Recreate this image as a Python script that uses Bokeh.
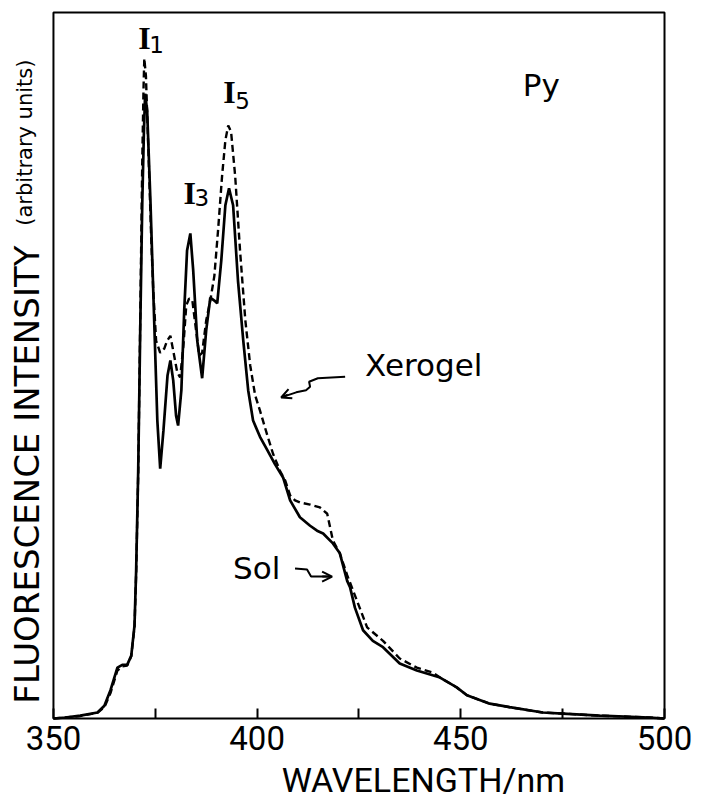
from math import pi
from bokeh.plotting import figure
from bokeh.models import Range1d, FixedTicker, Label, Arrow, OpenHead, ColumnDataSource, BoxAnnotation
from bokeh.core.properties import value
from bokeh.embed import file_html
from bokeh.resources import INLINE

# ---- data ----
wl_sol = [350.0, 352.9, 356.6, 360.8, 362.5, 364.0, 365.7, 366.9, 368.1, 369.1, 369.9, 370.3, 370.8, 371.3,
          371.8, 372.2, 372.5, 373.0, 373.8, 374.8, 375.5, 376.2, 377.0, 378.0, 378.7, 379.4, 380.1, 380.6,
          381.4, 382.1, 382.8, 383.6, 384.3, 385.3, 386.5, 387.5, 388.5, 389.5, 390.2, 391.2, 392.2, 393.1,
          394.1, 395.3, 396.6, 397.8, 399.0, 400.7, 402.5, 404.4, 406.4, 408.1, 410.5, 413.0, 414.7, 416.2,
          418.6, 420.3, 422.1, 422.8, 424.0, 426.0, 428.4, 430.9, 435.0, 439.2, 444.9, 449.0, 451.5, 457.1,
          462.0, 470.1, 475.0, 484.1, 496.3, 500.0]
int_sol = [0.0, 0.14, 0.4, 0.85, 1.8, 4.0, 7.2, 7.6, 7.6, 8.9, 13.2, 21.0, 35.0, 55.0,
           73.0, 83.0, 88.5, 86.1, 73.4, 55.0, 42.2, 35.4, 40.8, 48.6, 50.7, 47.9, 42.9, 41.5,
           46.5, 57.8, 66.3, 68.7, 63.5, 53.5, 48.2, 55.0, 59.6, 59.2, 58.8, 64.9, 72.7, 75.1,
           72.7, 62.0, 53.5, 46.5, 42.2, 39.9, 38.0, 36.0, 34.1, 30.9, 28.5, 27.3, 26.6, 26.2,
           24.8, 23.4, 19.5, 18.6, 15.7, 12.5, 11.0, 10.1, 7.8, 6.8, 5.8, 4.4, 3.3, 2.1,
           1.6, 0.85, 0.7, 0.4, 0.14, 0.0]

wl_xer = [350.0, 352.9, 356.6, 360.8, 362.5, 364.0, 365.7, 366.9, 368.1, 369.1, 369.9, 370.3, 370.8, 371.3,
          371.8, 372.1, 372.3, 372.7, 373.3, 374.0, 374.5, 375.2, 376.2, 377.2, 377.9, 378.7, 379.4, 380.4,
          381.1, 381.9, 382.6, 383.3, 384.1, 385.0, 385.8, 386.5, 387.5, 388.5, 389.5, 390.4, 391.4, 392.2,
          392.9, 393.6, 394.6, 395.8, 397.1, 398.3, 399.5, 400.7, 402.5, 403.9, 405.6, 406.9, 408.1, 409.3,
          410.5, 413.0, 415.4, 417.2, 418.6, 420.3, 422.1, 424.5, 427.0, 430.9, 435.0, 439.2, 443.1, 444.9,
          449.0, 451.5, 457.1, 462.0, 470.1, 475.0, 484.1, 496.3, 500.0]
int_xer = [0.0, 0.14, 0.35, 0.8, 1.6, 3.6, 6.8, 7.4, 7.5, 8.8, 13.0, 20.5, 34.5, 56.4,
           79.0, 89.0, 93.5, 91.0, 80.5, 68.0, 60.6, 53.5, 51.8, 52.4, 53.5, 54.2, 52.1, 49.0,
           48.3, 52.8, 58.5, 59.5, 59.2, 55.0, 51.4, 51.8, 56.4, 59.2, 62.7, 69.1, 76.9, 81.9,
           84.0, 83.1, 76.9, 66.3, 56.4, 50.0, 45.8, 43.6, 40.1, 37.5, 35.1, 33.7, 31.6, 30.9,
           30.6, 30.3, 29.9, 29.0, 25.2, 23.4, 20.3, 16.7, 12.9, 11.0, 8.5, 7.2, 6.5, 5.8,
           4.4, 3.3, 2.1, 1.6, 0.85, 0.7, 0.4, 0.14, 0.0]

x_ticks = [350, 375, 400, 425, 450, 475, 500]
x_tick_labels = ["350", "", "400", "", "450", "", "500"]
x_min, x_max = 350, 500
y_min, y_max = 0, 100

x_title = "WAVELENGTH/nm"
y_title = "FLUORESCENCE INTENSITY"
y_subtitle = "(arbitrary units)"

# ---- figure: the frame covers the margins so that the titles can sit there ----
p = figure(width=701, height=800, output_backend="svg", toolbar_location=None,
           x_range=Range1d(337.0, 509.08), y_range=Range1d(-11.615, 100.283),
           y_axis_location=None,
           min_border_left=0, min_border_right=0, min_border_top=10, min_border_bottom=0)
p.background_fill_color = "white"
p.border_fill_color = "white"
p.grid.visible = False
p.outline_line_color = None

# plot box
p.add_layout(BoxAnnotation(left=x_min, right=x_max, bottom=y_min, top=y_max,
                           fill_color=None, fill_alpha=0, line_color="black", line_alpha=1.0,
                           line_width=2))

ax = p.xaxis[0]
ax.fixed_location = 0
ax.ticker = FixedTicker(ticks=x_ticks)
ax.major_label_overrides = {t: l for t, l in zip(x_ticks, x_tick_labels)}
ax.major_tick_in = 10
ax.major_tick_out = 0
ax.minor_tick_line_color = None
ax.major_tick_line_width = 2
ax.axis_line_color = None
ax.major_label_text_font = "Roboto"
ax.major_label_text_font_size = "33px"
ax.major_label_text_color = "black"
ax.major_label_standoff = 8

# curves
p.line(wl_sol, int_sol, line_color="black", line_width=2.7)
p.line(wl_xer, int_xer, line_color="black", line_width=2.4, line_dash="7 4")

# axis titles
p.add_layout(Label(x=440.8, y=-8.7, text=x_title, text_align="center", text_baseline="alphabetic",
                   text_font="Roboto", text_font_size="34px", text_color="black"))
p.add_layout(Label(x=343.6, y=2.1, text=y_title, angle=pi / 2, text_align="left",
                   text_baseline="alphabetic", text_font="DejaVu Sans", text_font_size="34px",
                   text_color="black"))
p.add_layout(Label(x=343.0, y=69.8, text=y_subtitle, angle=pi / 2, text_align="left",
                   text_baseline="alphabetic", text_font="DejaVu Sans", text_font_size="21px",
                   text_color="black"))

# peak labels
src_I = ColumnDataSource(dict(x=[370.8, 381.9, 391.7], y=[96.4, 74.5, 88.7], t=["I", "I", "I"]))
p.text(x="x", y="y", text="t", source=src_I, text_font=value("Liberation Serif"),
       text_font_size="32px", text_font_style="bold", text_align="left", text_baseline="alphabetic",
       text_color="black")
src_sub = ColumnDataSource(dict(x=[373.5, 384.6, 394.6], y=[95.4, 73.8, 87.5], t=["1", "3", "5"]))
p.text(x="x", y="y", text="t", source=src_sub, text_font=value("DejaVu Sans"),
       text_font_size="23px", text_align="left", text_baseline="alphabetic", text_color="black")

# other labels
for lx, ly, lt in [(465.2, 89.7, "Py"), (426.5, 50.0, "Xerogel"), (394.1, 21.3, "Sol")]:
    p.add_layout(Label(x=lx, y=ly, text=lt, text_align="left", text_baseline="alphabetic",
                       text_font="DejaVu Sans", text_font_size="31px", text_color="black"))

# pointer arrows
p.line([421.6, 414.9, 412.75, 413.0, 412.0, 409.6, 406.3], [48.4, 48.2, 47.7, 47.0, 46.5, 46.2, 45.55],
       line_color="black", line_width=2)
p.add_layout(Arrow(end=OpenHead(size=10, line_width=2), x_start=407.5, y_start=45.85, x_end=405.9, y_end=45.47,
                   line_width=2))
p.line([409.3, 412.25, 413.24, 417.9], [21.25, 21.1, 20.11, 20.11], line_color="black", line_width=2)
p.add_layout(Arrow(end=OpenHead(size=10, line_width=2), x_start=416.0, y_start=20.11, x_end=418.4, y_end=20.11,
                   line_width=2))

open("out.html", "w").write(file_html(p, INLINE))
